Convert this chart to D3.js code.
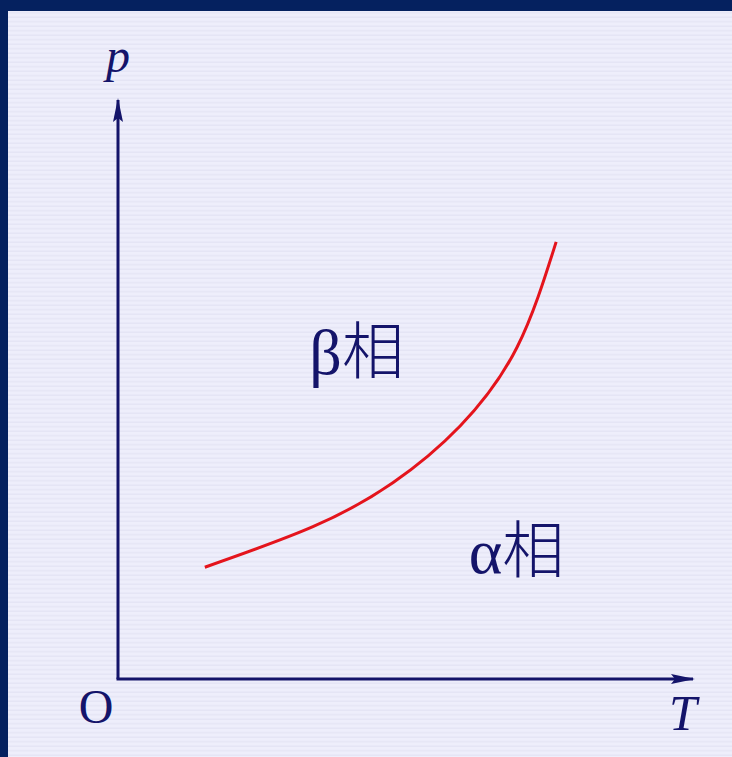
<!DOCTYPE html>
<html>
<head>
<meta charset="utf-8">
<script src="https://cdn.jsdelivr.net/npm/d3@7"></script>
<style>
  body { margin: 0; background: #eeeefb; }
  svg { display: block; }
</style>
</head>
<body>
<div id="chart"></div>
<script>
// phase boundary (arbitrary units)
var boundaryT = [1.51, 3.39, 4.78, 5.95, 6.94, 7.62];
var boundaryP = [1.93, 2.63, 3.39, 4.37, 5.73, 7.55];

var axisLabels = ["p", "T", "O"];
var phaseNames = ["β相", "α相"];
var phaseT = [4.15, 6.93];
var phaseP = [5.26, 1.83];

var W = 732, H = 757;

var x = d3.scaleLinear().domain([0, 10]).range([118, 693]);
var y = d3.scaleLinear().domain([0, 10]).range([679, 100]);

var svg = d3.select("#chart").append("svg")
    .attr("width", W)
    .attr("height", H);

var defs = svg.append("defs");
var pat = defs.append("pattern")
    .attr("id", "stripes")
    .attr("width", 8)
    .attr("height", 4.5)
    .attr("patternUnits", "userSpaceOnUse");
pat.append("rect").attr("width", 8).attr("height", 4.5).attr("fill", "#eeeefb");
pat.append("rect").attr("y", 3).attr("width", 8).attr("height", 1.5).attr("fill", "#e5e5f5");

var marker = defs.append("marker")
    .attr("id", "arrow")
    .attr("viewBox", "0 0 24 10")
    .attr("refX", 22)
    .attr("refY", 5)
    .attr("markerWidth", 24)
    .attr("markerHeight", 10)
    .attr("markerUnits", "userSpaceOnUse")
    .attr("orient", "auto");
marker.append("path")
    .attr("d", "M0,0 L24,5 L0,10 L4,5 Z")
    .attr("fill", "#14146a");

svg.append("rect").attr("width", W).attr("height", H).attr("fill", "url(#stripes)");
// dark frame at top and left
svg.append("rect").attr("width", W).attr("height", 11).attr("fill", "#05215f");
svg.append("rect").attr("width", 8).attr("height", H).attr("fill", "#05215f");

// axes
svg.append("line")
    .attr("x1", x(0)).attr("y1", y(0))
    .attr("x2", x(0)).attr("y2", y(10))
    .attr("stroke", "#14146a").attr("stroke-width", 3)
    .attr("marker-end", "url(#arrow)");
svg.append("line")
    .attr("x1", x(0) - 1.5).attr("y1", y(0))
    .attr("x2", x(10)).attr("y2", y(0))
    .attr("stroke", "#14146a").attr("stroke-width", 3)
    .attr("marker-end", "url(#arrow)");

var serif = "'Liberation Serif', 'DejaVu Serif', serif";

svg.append("text")
    .attr("x", x(0)).attr("y", 72)
    .attr("text-anchor", "middle")
    .attr("font-family", serif).attr("font-style", "italic")
    .attr("font-size", 48).attr("fill", "#14146a")
    .text(axisLabels[0]);
svg.append("text")
    .attr("x", x(10) - 10).attr("y", 730)
    .attr("text-anchor", "middle")
    .attr("font-family", serif).attr("font-style", "italic")
    .attr("font-size", 50).attr("fill", "#14146a")
    .text(axisLabels[1]);
svg.append("text")
    .attr("x", x(0) - 22).attr("y", 723)
    .attr("text-anchor", "middle")
    .attr("font-family", serif)
    .attr("font-size", 48).attr("fill", "#14146a")
    .text(axisLabels[2]);

// phase names
phaseNames.forEach(function(name, i) {
  var t = svg.append("text")
      .attr("x", x(phaseT[i])).attr("y", y(phaseP[i]))
      .attr("text-anchor", "middle")
      .attr("fill", "#14146a");
  t.append("tspan")
      .attr("font-family", serif).attr("font-size", 64)
      .text(name.charAt(0));
  t.append("tspan")
      .attr("font-family", "'Noto Sans CJK SC', sans-serif").attr("font-size", 62)
      .attr("font-weight", 300)
      .text(name.slice(1));
});

// boundary curve
var pts = boundaryT.map(function(t, i) { return [t, boundaryP[i]]; });
var line = d3.line()
    .x(function(d) { return x(d[0]); })
    .y(function(d) { return y(d[1]); })
    .curve(d3.curveNatural);

svg.append("path")
    .attr("d", line(pts))
    .attr("fill", "none")
    .attr("stroke", "#e4141c")
    .attr("stroke-width", 3);
</script>
</body>
</html>
